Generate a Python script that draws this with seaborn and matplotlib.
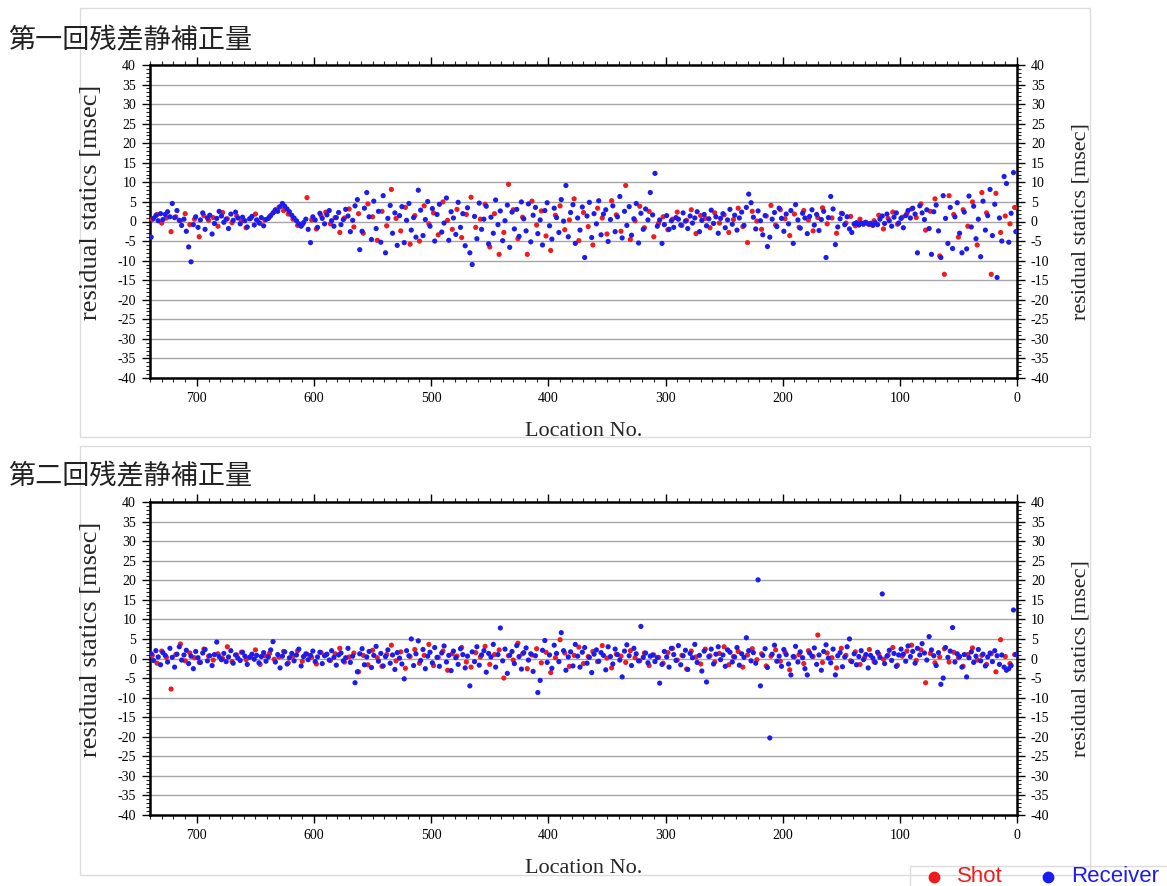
import numpy as np
import pandas as pd
import matplotlib
matplotlib.use("Agg")
import matplotlib.pyplot as plt
from matplotlib.lines import Line2D
from matplotlib.ticker import MultipleLocator
import seaborn as sns

# ---------------- data ----------------
panel_titles = ["第一回残差静補正量", "第二回残差静補正量"]
series_names = ["Shot", "Receiver"]
series_colors = {"Shot": "#ee1c1c", "Receiver": "#1c1cf0"}
y_label = "residual statics [msec]"
x_label = "Location No."

# receiver stations: 739, 737, ... 1 ; shot stations: 738, 734, ... 2
rcv_first, rcv_step = 739, 2
shot_first, shot_step = 738, 4

rcv_pass1 = [
    -4.0, 0.8, 1.5, 0.2, 2.0, 0.5, 1.8, 2.5, 1.2, 4.6,
    1.0, 2.8, 0.3, -1.0, 0.6, -2.5, -6.5, -10.3, -0.8, 1.2,
    -1.5, 0.4, 2.2, -2.0, 0.9, 1.6, -3.2, -0.5, 0.8, 2.6,
    1.4, -0.2, 0.6, -1.8, 1.9, 0.3, 2.4, 0.9, -0.6, 1.1,
    0.2, -1.4, 0.7, 1.3, -0.9, 0.4, -0.3, 1.0, -1.1, 0.5,
    0.8, 1.5, 2.2, 3.0, 2.6, 3.8, 4.6, 3.9, 3.2, 2.5,
    1.6, 0.9, 0.2, -0.6, -1.2,
    -0.3, 0.6, -2.0, -5.4, 1.2, 0.4, -1.5, 2.1, 0.8, -0.6,
    1.7, 2.8, 0.2, -1.2, 1.0, 2.3, -0.8, 0.5, 3.1, 1.4,
    -2.6, 0.3, 4.0, 5.6, -7.2,
    -2.5, 3.4, 7.4, 1.2, -4.6, 5.2, -1.8, 2.6, -5.3, 6.6,
    -8.0, 0.8, 4.1, -3.0, 2.2, -6.1, 1.5, 3.8, -5.4, 0.3,
    4.6, -2.2, 1.0, -4.0, 8.0, 2.9, -3.6, 0.5, 5.1, -1.2,
    3.3, -5.0, 1.8, 4.4, -2.7, -0.4, 6.0, -4.8, 2.5, 0.9,
    -3.3, 4.9, -1.5, 2.0, -6.2, 3.5, -8.0, -11.0, 1.3, -4.4,
    4.7, -2.0, 0.6, 3.9, -5.7, 1.1, -3.0, 5.5, -0.8, 2.7,
    -4.9, 0.2, 4.2, -6.6, 2.4, -1.9, 3.1, -3.8, 5.0, 0.7,
    -2.4, 4.5, -5.2, 1.6, 3.6, -3.1, 0.4, -6.0, 2.8, 4.8,
    -1.1, -4.5, 3.4, 1.0, -2.8, 5.6, 0.1, 9.2, -3.9, 2.3,
    4.3, -5.6, 0.9, -2.2, 3.7, -9.2, 1.4, 4.9, -4.1, 2.0,
    -0.6, 5.3, -3.4, 1.9, 3.0, -5.1, 0.5, 4.0, -2.6, 1.2,
    6.4, -4.2, 2.6, -1.0, 3.8, -3.5, 0.7, 4.6, -5.5, 2.1,
    -2.0, 3.2, 0.4, 7.4, 1.7,
    12.3, -1.2, 0.4, -5.6, -0.8, 1.5, -2.0, 0.2, -1.5, 1.0,
    0.6, -0.9, 2.2, 0.1, -1.8, 1.4, -0.4, 0.9, 2.5, -2.6,
    0.3, 1.8, -1.1, 0.7, 2.9, -0.5, 1.2, -3.0, 0.8, 2.0,
    -1.6, 0.4, 3.1, -0.7, 1.6, -2.2, 0.9, 2.4, -1.0, 3.6,
    7.0, 4.8, 1.1, -1.9, 2.7, 0.2, -3.4, 1.5, -6.4, -4.0,
    0.6, 2.3, -1.3, 3.4, 0.8, -2.5, 1.9, -0.6, 2.8, -5.6,
    4.3, 0.4, -1.7, 2.1, 0.9, -3.1, 1.3, 3.0, -0.9, 1.8,
    -2.3, 0.5, 2.6, -9.2, 1.0, 6.4, 3.2, -5.9, -1.4, 0.7,
    2.0, -0.8, 1.2, -1.9, -2.8, -0.6, -0.3, -0.9, -0.4, -0.7,
    -0.2, -0.6, -0.5, -1.0, -0.3, -0.8, 0.6, 1.4, -0.5, 1.9,
    0.2, -1.2, 1.1, 2.2, -0.4, 0.8, -1.6,
    1.5, 2.8, 0.9, 3.4, 1.9, -8.0, 4.0, 2.2, 0.5, 3.0,
    -1.8, -8.4, 2.5, 4.2, -2.4, -9.2, 6.6, 0.8, -5.6, 3.6,
    -6.9, 1.2, 4.8, -3.0, -8.0, 2.4, -7.0, 6.5, -1.4, 3.9,
    -4.4, 0.6, -9.0, 5.2, -2.2, 1.5, 8.2, -3.6, 4.4, -14.3,
    0.9, -5.0, 11.5, 9.7, -5.3, 2.1, 12.5, -2.6,
]

shot_pass1 = [
    0.5, 1.8, -0.4, 0.9, -2.6, 1.2, 0.2, 2.0, -0.8, 0.6,
    -3.9, 1.5, 0.3, 1.0, -1.2, 2.3, 0.7, -0.3, 1.4, 0.1,
    -1.6, 0.8, 1.9, -0.5, 0.4,
    1.2, 2.5, 3.6, 2.8, 1.9, 0.6, -1.0,
    -0.8, 6.1, 0.4, -1.9, 1.5, 2.4, -0.6, 1.0, -2.8, 0.9,
    3.2, -1.4, 2.0,
    -3.0, 4.5, 1.2, -4.8, 2.6, -1.1, 8.2, 0.8, -2.4, 3.6,
    -5.8, 1.5, -5.0, 4.0, -0.6, 2.2, -3.4, 5.0, 0.3, -2.0,
    3.1, -4.1, 1.8, 6.2, -1.5, 0.6, 4.4, -6.5, 2.0, -8.4,
    -2.8, 9.5, 3.0, -4.4, 1.1, -8.4, 5.2, -0.9, 2.7, -3.7,
    -7.4, 1.6, 4.0, -2.1, 0.4, 5.8, -4.9, 2.3, -1.3, -6.0,
    3.4, 0.9, -3.2, 5.3, 1.7, -2.5, 9.2, -4.6, 0.2, 3.9,
    -1.6, 2.6, -3.9,
    -0.5, 1.2, -2.1, 0.6, 2.4, -1.0, 0.3, 3.0, -3.1, 1.5,
    0.8, -1.6, 2.2, -0.4, 1.7, -2.8, 0.5, 3.4, -1.3, -5.4,
    2.6, 0.1, -2.0, 1.4, 4.1, -0.9, 3.0, 0.7, -3.6, 1.9,
    -1.5, 2.8, 0.4, -2.4, 1.0, 3.5, -0.6, 0.9, -3.0, 2.1,
    -0.4, 1.3, -1.1, 0.6, -0.3, -0.8, 0.2, 1.6, -1.9, 0.8,
    2.4, -0.7, 1.1,
    2.0, 3.2, 1.0, 4.5, -2.2, 2.6, 5.8, -8.8, -13.5, 6.6,
    1.8, -4.0, 3.0, -1.2, 5.0, -6.0, 7.4, 2.2, -13.5, 7.2,
    -2.8, 1.4, -0.6, 3.6,
]

rcv_pass2 = [
    1.2, -0.5, 2.0, 0.4, -1.6, 1.5, 0.8, -0.9, 2.6, 0.3,
    -2.2, 1.1, 3.0, -0.4, 0.9, 2.1, -1.3, 0.6, -2.6, 1.8,
    0.2, -1.0, 1.4, 2.3, -0.6, 0.7, -1.8, 1.0, 4.2, 0.5,
    -0.3, 1.3, -0.8, 0.4, 2.0, -1.2, 0.9, 0.1, -0.5, 1.6,
    0.6, -1.5, 0.3, 1.1, -0.2, 0.8, -1.1, 0.5, 1.5, -0.7,
    0.4, 2.2, 4.3, -0.9, 1.0, -2.4, 0.6, 1.7, -1.4, 0.2,
    1.3, -0.6, 0.9, 2.4, -1.9, 0.5, 1.2, -0.3, 0.8, 1.9,
    -0.8, 0.4, 1.6, -1.3, 0.7, 1.1, -0.4, 2.0, 0.3, -1.7,
    0.9, 1.4, -0.6, 0.2, 2.6, -1.0, 0.6, -6.2, -3.4, 1.2,
    2.5, -1.6, 0.4, 1.8, -2.3, 0.8, 3.1, -0.7, 1.3, -1.9,
    0.5, 2.2, -1.2, 0.9, -2.8, 1.5, 0.1, -1.4, -5.2, 2.0,
    0.7, 5.0, -1.8, 1.2, 4.5, -0.5, 2.3, -2.6, 0.6, 1.6,
    -1.1, 2.8, 0.3, -2.0, 1.4, 3.2, -0.9, 0.8, -3.1, 1.9,
    0.2, -1.5, 2.5, 1.0, -2.4, 0.6, -7.0, 1.7, -0.8, 3.0,
    -1.7, 0.9, 2.0, -3.5, 1.3, 0.4, 3.6, -2.2, 1.0, 7.8,
    -0.6, 2.4, -3.8, 0.8, 1.8, -1.3, 3.3, 0.5, -2.7, 1.5,
    2.7, -0.4, 1.2, -3.3, 0.7, -8.7, -5.6, 2.1, 4.6, -1.0,
    0.9, -2.5, 3.4, 1.3, -0.8, 6.6, 2.0, -3.0, 0.4, 1.7,
    -1.9, 3.6, 0.6, -2.2, 1.6, 2.8, -1.2, 0.3, -3.6, 1.1,
    2.2, -0.7, 1.5, 0.8, -2.9, 3.0, 0.5, -1.4, 2.4, 1.0,
    -0.4, -4.7, 1.9, 3.5, 0.7, -1.8, 2.6, 1.2, -0.6, 8.2,
    0.3, 1.4, -1.1, 0.6, 0.9, -0.8, 0.2, -6.3, -1.5, 1.8,
    0.4, -2.2, 2.6, 1.0, -0.5, 3.3, -1.6, 0.7, 2.1, -2.8,
    1.3, 0.2, 3.6, -1.0, 0.8, -3.2, 1.9, -6.0, 0.5, 2.4,
    -1.4, 1.1, 3.0, -0.3, 0.9, -2.0, 2.2, 1.6, -0.9, 0.4,
    2.8, -1.7, 1.2, 0.3, 5.3, 2.0, -0.6, 1.5, -1.2, 20.1,
    -7.0, 0.8, 2.5, -2.3, -20.3, 1.1, 3.4, -0.7, 0.6, -2.0,
    2.3, 1.0, -1.4, -4.2, 0.5, 3.1, -0.9, 1.7, 0.2, -2.6,
    -4.2, 1.4, 0.6, 2.7, -1.5, 0.9, -3.0, 1.8, 3.5, 0.1,
    -1.1, 2.4, -4.2, 0.7, 1.5, -2.1, 0.4, 3.0, 5.0, -0.8,
    1.2, -1.6, 0.5, 2.0, -0.3, 1.0, -2.4, 0.8, 0.1, -1.0,
    1.6, 0.3, 16.5, -1.3, 0.6, 2.1, -0.5, 1.3, -2.0, 0.9,
    2.4, 1.1, -0.7, 3.2, 0.5, 1.8, -1.2, 2.6, 0.9, 3.8,
    1.4, -0.4, 5.6, 2.2, 0.7, -1.8, 1.5, -6.6, -5.0, 2.8,
    0.3, 1.9, 7.9, -0.9, 1.2, 0.5, -2.2, 1.0, -4.7, 0.2,
    1.7, -1.0, 0.6, 2.3, -0.6, 1.1, -1.9, 0.4, 1.4, -0.8,
    2.0, 0.7, -1.5, 0.9, -2.2, -3.0, -2.6, -1.8, 12.4, 1.0,
]

shot_pass2 = [
    0.8, -1.2, 1.9, 0.3, -7.8, 1.0, 3.7, -0.6, 1.4, 0.2,
    -1.0, 2.4, 0.6, -0.4, 1.2, 0.0, 3.0, -0.8, 0.9, 1.6,
    -0.3, 0.5, 2.2, -1.5, 0.7, 1.3, -0.2, 0.4, 1.8, -1.1,
    0.6, 2.0, -0.7, 1.1, 0.3, -1.4, 1.5, 0.9, -0.5, 1.2,
    2.6, -0.9, 0.4, 1.4, -3.4, 0.8, -1.6, 2.1, 0.2, -2.0,
    1.0, 3.4, -0.6, 1.7, -2.5, 0.5, 2.3, -1.2, 0.8, 3.6,
    -1.8, 0.3, 1.9, -3.0, 1.2, 0.6, 2.8, -0.9, -2.2, 1.5,
    0.4, 3.1, -1.5, 1.0, 2.2, -5.0, 0.7, -0.4, 3.9, 1.2,
    -2.6, 0.9, 2.5, -1.1, 1.6, -3.6, 0.2, 4.8, 1.4, -2.0,
    0.8, 2.9, -1.3, 0.5, 1.8, -0.8, 3.3, 0.1, -2.4, 1.1,
    0.6, -1.0, 2.0, 0.2, -0.6, 1.4, -1.8, 0.9, 0.3, -1.2,
    1.5, 2.6, -0.4, 0.8, -2.7, 1.9, 0.4, -1.4, 2.4, 0.7,
    -0.9, 1.3, 3.0, -1.6, 0.5, 1.8, -2.2, 0.9, 2.5, -0.3,
    1.2, -1.9, 0.6, 2.2, -0.7, 1.6, -2.9, 0.4, 1.0, -1.3,
    2.0, 0.5, 6.0, -1.0, 1.4, 0.2, -2.4, 2.6, 0.8, -0.6,
    1.7, -1.5, 0.3, 2.3, -0.8, 1.1, -0.2, 0.9, 2.8, -1.7,
    0.6, 1.9, 3.4, -0.5, 2.2, -6.2, 1.3, -1.1, 0.4, 2.5,
    -0.9, 1.6, 0.2, -2.0, 1.0, 2.7, -0.4, 0.8, -1.5, 1.2,
    -3.4, 4.8, 0.5, -1.3, 1.0,
]

x_ticks = [700, 600, 500, 400, 300, 200, 100, 0]
y_ticks = list(range(-40, 41, 5))


def panel_frame(shots, rcvs):
    s_loc = [shot_first - shot_step * k for k in range(len(shots))]
    r_loc = [rcv_first - rcv_step * k for k in range(len(rcvs))]
    df_r = pd.DataFrame({"loc": r_loc, "val": rcvs, "kind": "Receiver"})
    df_s = pd.DataFrame({"loc": s_loc, "val": shots, "kind": "Shot"})
    # shots underneath, receivers on top
    return pd.concat([df_s, df_r], ignore_index=True)


# ---------------- style ----------------
sns.set_style("white")
plt.rcParams["font.family"] = ["Liberation Serif", "DejaVu Serif"]
plt.rcParams["axes.unicode_minus"] = False

W, H = 1167, 886
fig = plt.figure(figsize=(W / 100, H / 100), dpi=100)


def fx(px):
    return px / W


def fy(py):
    return 1 - py / H


# faint panel frames
for (x0, y0, x1, y1) in [(80, 8, 1090, 437), (80, 446, 1090, 875)]:
    fig.add_artist(plt.Rectangle((fx(x0), fy(y1)), fx(x1) - fx(x0), fy(y0) - fy(y1),
                                 fill=False, ec="#dcdcdc", lw=1.0, transform=fig.transFigure))
fig.add_artist(Line2D([fx(910), fx(1167)], [fy(866), fy(866)], color="#dcdcdc", lw=1.0,
                      transform=fig.transFigure))
fig.add_artist(Line2D([fx(910), fx(910)], [fy(866), fy(886)], color="#dcdcdc", lw=1.0,
                      transform=fig.transFigure))

axes_px = [(150, 65, 1017, 378), (150, 502, 1017, 815)]
data_sets = [(shot_pass1, rcv_pass1), (shot_pass2, rcv_pass2)]
title_y = [41, 477]

for k, ((x0, y0, x1, y1), (shots, rcvs)) in enumerate(zip(axes_px, data_sets)):
    ax = fig.add_axes([fx(x0), fy(y1), fx(x1) - fx(x0), fy(y0) - fy(y1)])
    df = panel_frame(shots, rcvs)
    for yv in range(-35, 40, 5):
        ax.axhline(yv, color="#a6a6a6", lw=1.0, zorder=0)
    sns.scatterplot(data=df, x="loc", y="val", hue="kind", palette=series_colors,
                    s=14, linewidth=0, legend=False, ax=ax, zorder=3)
    ax.set_xlim(740, 0)
    ax.set_ylim(-40, 40)
    ax.set_xticks(x_ticks)
    ax.xaxis.set_minor_locator(MultipleLocator(10))
    ax.set_yticks(y_ticks)
    ax.yaxis.set_minor_locator(MultipleLocator(1))
    ax.tick_params(axis="both", which="major", direction="out", length=6, width=1.0,
                   labelsize=10, colors="black")
    ax.tick_params(axis="both", which="minor", direction="out", length=3, width=0.8)
    ax.tick_params(axis="y", which="both", left=True, right=True, labelleft=True, labelright=True, pad=4)
    ax.tick_params(axis="x", which="both", bottom=True, top=True, labelbottom=True, labeltop=False, pad=4)
    for sp in ax.spines.values():
        sp.set_visible(True)
        sp.set_color("black")
        sp.set_linewidth(1.8)
    ax.set_xlabel(x_label, fontsize=16, labelpad=12)
    ax.set_ylabel("")
    ax.grid(False)
    # y labels (left larger than right, both ending at the same height)
    fig.text(fx(91), fy(y1 - 58), y_label, rotation=90, ha="center", va="bottom", fontsize=19)
    fig.text(fx(1081), fy(y1 - 58), y_label, rotation=90, ha="center", va="bottom", fontsize=16)
    fig.text(fx(8), fy(title_y[k]), panel_titles[k], ha="left", va="center", fontsize=19.5,
             family=["Noto Sans CJK JP", "DejaVu Sans"], color="#222222")

# legend (drawn manually to match the reference placement)
legend_pos = {"Shot": (934, 957), "Receiver": (1048, 1071)}
for n in series_names:
    mx, tx = legend_pos[n]
    fig.add_artist(Line2D([fx(mx)], [fy(877)], marker="o", ls="", color=series_colors[n],
                          markersize=7.5, transform=fig.transFigure))
    fig.text(fx(tx), fy(877), n, ha="left", va="center", color=series_colors[n], fontsize=16,
             family=["Liberation Sans", "DejaVu Sans"])

fig.savefig("out.png", dpi=100)
